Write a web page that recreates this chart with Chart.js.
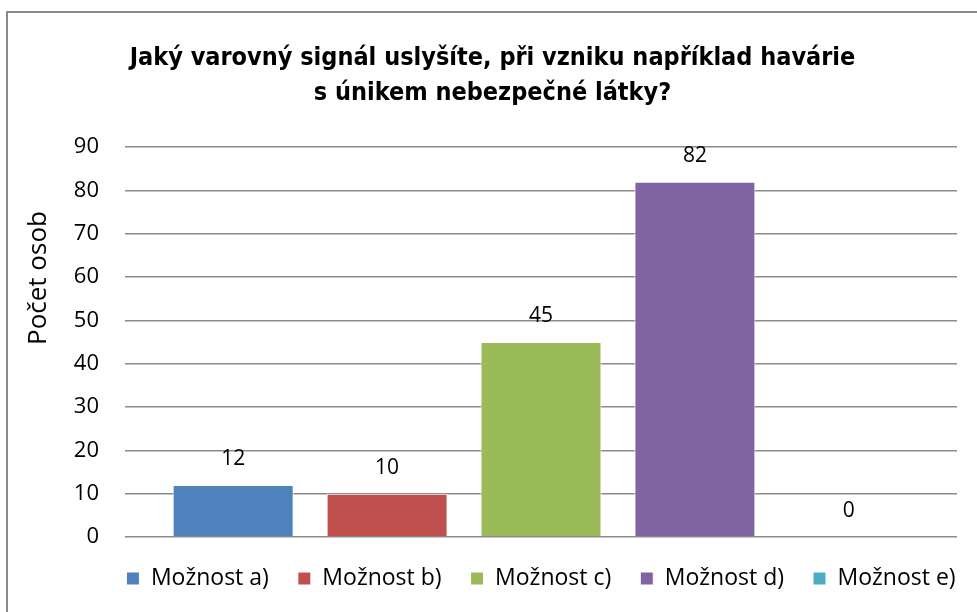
<!DOCTYPE html>
<html>
<head>
<meta charset="utf-8">
<script src="https://cdn.jsdelivr.net/npm/chart.js@4/dist/chart.umd.min.js"></script>
<style>
    html, body { margin: 0; padding: 0; background: #fff; overflow: hidden; }
    .frame {
        position: absolute; left: 6px; top: 11px;
        width: 1000px; height: 620px;
        border: 2px solid #8a8a8a;
        box-sizing: border-box;
    }
    .frame canvas { position: absolute; left: 0; top: 0; }
</style>
</head>
<body>
<div class="frame">
    <canvas id="chart" width="969" height="599"></canvas>
</div>
<script>
// Chart data
const categories = ['Možnost a)', 'Možnost b)', 'Možnost c)', 'Možnost d)', 'Možnost e)'];
const counts = [12, 10, 45, 82, 0];
const colors = ['#4F81BD', '#C0504D', '#9BBB59', '#8064A2', '#4BACC6'];
const yTicks = [0, 10, 20, 30, 40, 50, 60, 70, 80, 90];
const titleLines = ['Jaký varovný signál uslyšíte, při vzniku například havárie', 's únikem nebezpečné látky?'];
const yTitle = 'Počet osob';

const bodyFont = "'Open Sans', 'Noto Sans', sans-serif";

// value labels above each bar
const valueLabels = {
    id: 'valueLabels',
    afterDatasetsDraw(chart) {
        const ctx = chart.ctx;
        ctx.save();
        ctx.font = '21px ' + bodyFont;
        ctx.fillStyle = '#000';
        ctx.textAlign = 'center';
        ctx.textBaseline = 'middle';
        chart.data.datasets.forEach((ds, i) => {
            const bar = chart.getDatasetMeta(i).data[0];
            ctx.fillText(String(ds.data[0]), bar.x, bar.y - 26);
        });
        ctx.restore();
    }
};

// rotated axis title on the left
const axisTitle = {
    id: 'axisTitle',
    afterDraw(chart) {
        const ctx = chart.ctx;
        const area = chart.chartArea;
        ctx.save();
        ctx.translate(31, area.top + (area.bottom - area.top) * 0.336);
        ctx.rotate(-Math.PI / 2);
        ctx.font = '26px ' + bodyFont;
        ctx.fillStyle = '#000';
        ctx.textAlign = 'center';
        ctx.textBaseline = 'middle';
        ctx.fillText(yTitle, 0, 0);
        ctx.restore();
    }
};

// legend centred under the plot and pulled up a bit, title nudged right
const placeBoxes = {
    id: 'placeBoxes',
    afterLayout(chart) {
        const area = chart.chartArea;
        const legend = chart.legend;
        const shift = (area.left + area.right) / 2 - (legend.left + legend.right) / 2;
        legend.left += shift;
        legend.right += shift;
        legend.top -= 7;
        legend.bottom -= 7;
        chart.titleBlock.left += 10;
        chart.titleBlock.right += 10;
    }
};

const datasets = categories.map((name, i) => ({
    label: name,
    data: [counts[i]],
    backgroundColor: colors[i],
    borderColor: '#ffffff',
    borderWidth: 1,
    categoryPercentage: 0.925,
    barPercentage: 0.786
}));

new Chart(document.getElementById('chart'), {
    type: 'bar',
    data: { labels: [''], datasets: datasets },
    options: {
        responsive: false,
        animation: false,
        layout: { padding: { left: 0, right: 20, top: 8, bottom: 5 } },
        plugins: {
            title: {
                display: true,
                text: titleLines,
                color: '#000',
                font: { family: "'Liberation Sans Narrow', 'DejaVu Sans Condensed', sans-serif", size: 25, weight: 'bold', lineHeight: 1.4 },
                padding: { top: 20, bottom: 36 }
            },
            legend: {
                position: 'bottom',
                labels: {
                    color: '#000',
                    font: { family: bodyFont, size: 23 },
                    boxWidth: 13,
                    boxHeight: 13,
                    padding: 29
                }
            },
            tooltip: { enabled: false }
        },
        scales: {
            x: {
                ticks: { display: false },
                grid: { display: false },
                border: { display: false }
            },
            y: {
                min: 0,
                max: 90,
                afterFit(scale) { scale.width = 117; },
                afterBuildTicks(scale) { scale.ticks = yTicks.map(v => ({ value: v })); },
                ticks: { color: '#000', font: { family: bodyFont, size: 22 }, padding: 26 },
                grid: { color: '#8a8a8a', lineWidth: 1.5, drawTicks: false },
                border: { display: false }
            }
        }
    },
    plugins: [valueLabels, axisTitle, placeBoxes]
});
</script>
</body>
</html>
